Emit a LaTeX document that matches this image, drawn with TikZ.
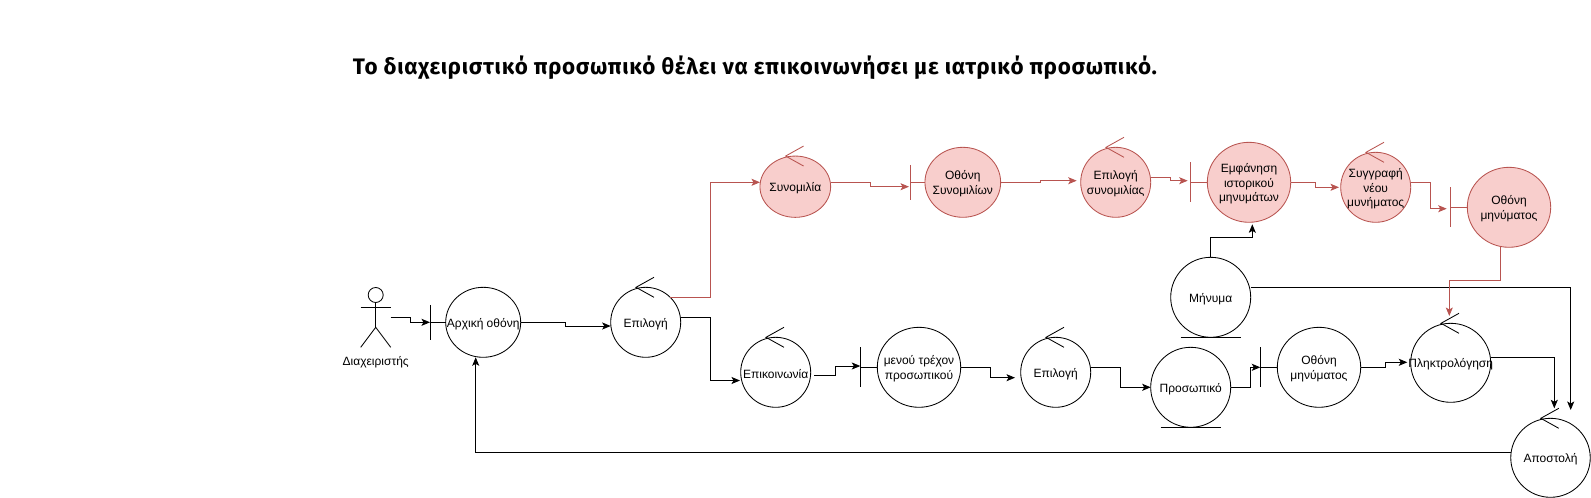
\documentclass[tikz,border=0pt]{standalone}
\usepackage{fontspec}
\setmainfont{Liberation Sans}
\newfontfamily\titlefont[LetterSpace=3.3]{Fira Sans}
\usepackage{xcolor}
\usepackage{tikz}
\usetikzlibrary{arrows.meta, calc, shapes.geometric}
\definecolor{redline}{HTML}{B85450}
\definecolor{redfill}{HTML}{F8CECC}

\begin{document}
\begin{tikzpicture}[x=1pt,y=-1pt,>={Stealth[length=8.5pt,width=7pt,inset=2pt]},line width=0.85pt]

% Styles
\tikzset{obj/.style={ellipse, draw, inner sep=0pt, outer sep=0pt},
  lbl/.style={font=\fontsize{12}{14.4}\selectfont, align=center, inner sep=0pt, yshift=-1.5pt},
  redobj/.style={obj, draw=redline, fill=redfill},
  redconn/.style={->, draw=redline},
  conn/.style={->, draw=black}}

\useasboundingbox (0,0) rectangle (1591,498);

% Title
\node[font=\titlefont\bfseries\fontsize{22.4}{26}\selectfont] (titlos) at (755,68) {Το διαχειριστικό προσωπικό θέλει να επικοινωνήσει με ιατρικό προσωπικό.};

% --- Actor ---
\node[circle, draw, minimum size=15pt, inner sep=0pt, outer sep=0pt] (kefali) at (375.7,295) {};
\coordinate (soma) at (375.7,327.3);
\draw (kefali.south) -- (soma);
\draw (360.7,307.3) -- (390.7,307.3);
\draw (360.7,347.3) -- (soma) -- (390.7,347.3);
\node[lbl] (diax) at (375.7,361) {Διαχειριστής};
\coordinate (diaxOut) at (390.7,317.3);

% --- Bottom row ---
\node[obj, minimum width=75pt, minimum height=70pt, label={[lbl]center:Αρχική οθόνη}] (arxiki) at (483.2,322.3) {};
\node[obj, minimum width=70pt, minimum height=70pt, label={[lbl]center:Επιλογή}] (epilogi) at (645.7,322.3) {};
\node[obj, minimum width=70pt, minimum height=70pt, label={[lbl]center:Επικοινωνία}] (epikoin) at (775.7,372.3) {};
\node[obj, minimum width=83.4pt, minimum height=80pt, label={[lbl]center:μενού τρέχον\\προσωπικού}] (menou) at (919,367.3) {};
\node[obj, minimum width=70pt, minimum height=70pt, label={[lbl]center:Επιλογή}] (epilogiB) at (1055.7,372.3) {};
\node[obj, minimum width=80pt, minimum height=80pt, label={[lbl]center:Προσωπικό}] (prosopiko) at (1190.7,387.3) {};
\node[obj, minimum width=83.4pt, minimum height=80pt, label={[lbl]center:Οθόνη\\μηνύματος}] (othoniB) at (1319,367.3) {};
\node[obj, minimum width=80pt, minimum height=79pt, label={[lbl]center:Πληκτρολόγηση}] (plikt) at (1450.7,362.8) {};
\node[obj, minimum width=79.5pt, minimum height=79pt, label={[lbl]center:Αποστολή}] (apostoli) at (1550.5,457.8) {};
\node[obj, minimum width=80pt, minimum height=80pt, label={[lbl]center:Μήνυμα}] (minyma) at (1210.7,297.3) {};

% --- Top row ---
\node[redobj, minimum width=70.7pt, minimum height=61.3pt, label={[lbl]center:Συνομιλία}] (synomilia) at (795.3,186.7) {};
\node[redobj, minimum width=75.7pt, minimum height=70pt, label={[lbl]center:Οθόνη\\Συνομιλίων}] (othoniS) at (962.8,182.3) {};
\node[redobj, minimum width=70pt, minimum height=70pt, label={[lbl]center:Επιλογή\\συνομιλίας}] (epilogiS) at (1115.7,182.3) {};
\node[redobj, minimum width=83.4pt, minimum height=80pt, label={[lbl]center:Εμφάνηση\\ιστορικού\\μηνυμάτων}] (emfanisi) at (1249,182.3) {};
\node[redobj, minimum width=70pt, minimum height=70pt, label={[lbl]center:Συγγραφή\\νέου\\μυνήματος}] (syggrafi) at (1375.7,187.3) {};
\node[redobj, minimum width=83.4pt, minimum height=80pt, label={[lbl]center:Οθόνη\\μηνύματος}] (othoniM) at (1509,207.3) {};

% Marks on the circles
\foreach \n in {epilogi,epikoin,epilogiB,plikt,apostoli}
  \draw ($(\n.north)+(8.3,-10)$) -- ($(\n.north)+(-9.7,0)$) -- ($(\n.north)+(8.3,10)$);
\foreach \n in {synomilia,epilogiS,syggrafi}
  \draw[redline] ($(\n.north)+(8.3,-10)$) -- ($(\n.north)+(-9.7,0)$) -- ($(\n.north)+(8.3,10)$);
\foreach \n/\s/\h in {arxiki/15/17.5,menou/16.6/20,othoniB/16.6/20}
  \draw (\n.west) -- ++(-\s,0) ++(0,-\h) -- ++(0,2*\h);
\foreach \n/\s/\h in {othoniS/14.7/17.5,emfanisi/16.6/20,othoniM/16.6/20}
  \draw[redline] (\n.west) -- ++(-\s,0) ++(0,-\h) -- ++(0,2*\h);
\foreach \n in {prosopiko,minyma}
  \draw ($(\n.south)+(-30,0)$) -- ($(\n.south)+(30,0)$);

% Arrow ends
\coordinate (inArxiki) at (430,322.3);
\coordinate (inEpilogi) at (610.7,326);
\coordinate (inEpikoin) at (740,380.5);
\coordinate (outEpikoin) at (814.3,375.7);
\coordinate (inMenou) at (860.3,366);
\coordinate (inEpilogiB) at (1015,377.7);
\coordinate (inBar) at (1260.3,367.3);
\coordinate (inPlikt) at (1407.3,362.3);
\coordinate (inApostoliA) at (1554.3,408.3);
\coordinate (inApostoliB) at (1570.7,410);
\coordinate (inEmfanisi) at (1252.3,224.3);

% --- Connectors, black ---
\draw[conn] (diaxOut) -- ++(19.6,0) |- (inArxiki);
\draw[conn] (arxiki.east) -- ++(45,0) |- (inEpilogi);
\draw[conn] ($(epilogi.east)+(0,-5)$) -- ++(30,0) |- (inEpikoin);
\draw[conn] (outEpikoin) -- ++(21.4,0) |- (inMenou);
\draw[conn] (menou.east) -- ++(30,0) |- (inEpilogiB);
\draw[conn] ($(epilogiB.east)+(0,-5)$) -- ++(30,0) |- (prosopiko.west);
\draw[conn] (prosopiko.east) -- ++(20,0) |- (inBar);
\draw[conn] (othoniB.east) -- ++(25,0) |- (inPlikt);
\draw[conn] ($(plikt.east)+(0,-5.5)$) -| (inApostoliA);
\draw[conn] ($(minyma.east)+(0,-10)$) -| (inApostoliB);
\draw[conn] (minyma.north) -- ++(0,-20) -| (inEmfanisi);
\draw[conn] ($(apostoli.west)+(0,-5.5)$) -| ($(arxiki.south)+(-7.5,0)$);

% --- Connectors, red ---
\coordinate (inSynomilia) at (760,182.3);
\coordinate (inOthoniS) at (909,186.7);
\coordinate (outOthoniS) at (1000.7,182.3);
\coordinate (inEpilogiS) at (1076.7,180.7);
\coordinate (outEpilogiS) at (1150.7,177.3);
\coordinate (inEmfanisiR) at (1187.7,180.7);
\coordinate (inSyggrafi) at (1339,187.3);
\coordinate (outSyggrafi) at (1410.7,182.3);
\coordinate (inOthoniM) at (1446.7,208.7);
\coordinate (inPliktR) at (1449.3,316);

\draw[redconn] (epilogi.45) -- ++(40.3,0) |- (inSynomilia);
\draw[redconn] ($(synomilia.east)+(0,-4.4)$) -- ++(40,0) |- (inOthoniS);
\draw[redconn] (outOthoniS) -- ++(40,0) |- (inEpilogiS);
\draw[redconn] (outEpilogiS) -- ++(20,0) |- (inEmfanisiR);
\draw[redconn] (emfanisi.east) -- ++(25,0) |- (inSyggrafi);
\draw[redconn] (outSyggrafi) -- ++(20,0) |- (inOthoniM);
\draw[redconn] ($(othoniM.south)+(-8.3,0)$) -- ++(0,32.7) -| (inPliktR);

\end{tikzpicture}
\end{document}
